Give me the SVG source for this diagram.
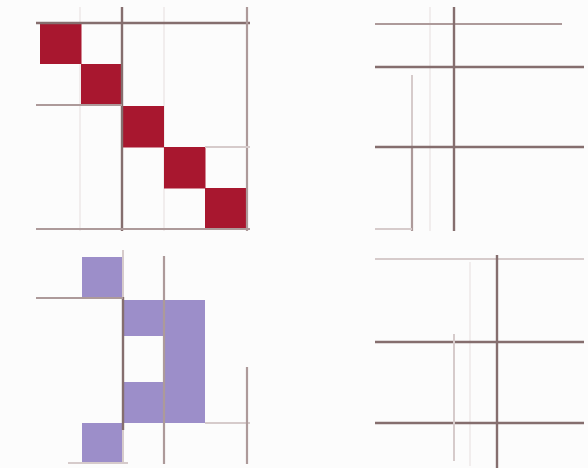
<svg xmlns="http://www.w3.org/2000/svg" width="588" height="468" viewBox="0 0 588 468">
<style>
.dark{stroke:#856e6e;stroke-width:2.4;fill:none}
.mid{stroke:#ad9a9a;stroke-width:2.2;fill:none}
.light{stroke:#d6cbcb;stroke-width:2;fill:none}
.faint{stroke:#f1eded;stroke-width:2;fill:none}
.red{fill:#a8172f}
.purple{fill:#9c8ec9}
</style>
<rect width="588" height="468" fill="#fcfcfc"/>
<g id="panel-top-left">
<line class="faint" x1="80" y1="7" x2="80" y2="231"/>
<line class="faint" x1="164" y1="7" x2="164" y2="231"/>
<rect class="red" x="40" y="22" width="41.5" height="42"/>
<rect class="red" x="81" y="64" width="41.5" height="42"/>
<rect class="red" x="122" y="106" width="42" height="41.5"/>
<rect class="red" x="164" y="147" width="41.5" height="41.5"/>
<rect class="red" x="205" y="188" width="41.5" height="41.5"/>
<line class="dark" x1="36" y1="23" x2="250" y2="23"/>
<line class="dark" x1="122" y1="7" x2="122" y2="231"/>
<line class="mid" x1="247" y1="7" x2="247" y2="231"/>
<line class="mid" x1="36" y1="105" x2="122" y2="105"/>
<line class="mid" x1="36" y1="229" x2="250" y2="229"/>
<line class="light" x1="205" y1="147" x2="250" y2="147"/>
</g>
<g id="panel-top-right">
<line class="faint" x1="430" y1="7" x2="430" y2="231"/>
<line class="light" x1="412" y1="75" x2="412" y2="147"/>
<line class="mid" x1="412" y1="147" x2="412" y2="231"/>
<line class="light" x1="375" y1="229" x2="412" y2="229"/>
<line class="mid" x1="375" y1="24" x2="562" y2="24"/>
<line class="dark" x1="375" y1="67" x2="584" y2="67"/>
<line class="dark" x1="375" y1="147" x2="584" y2="147"/>
<line class="dark" x1="454" y1="7" x2="454" y2="231"/>
</g>
<g id="panel-bottom-left">
<rect class="purple" x="82" y="257" width="41" height="42"/>
<path class="purple" fill-rule="evenodd" d="M123 300H205V423H123Z M123 336H164V382H123Z"/>
<rect class="purple" x="82" y="423" width="41" height="41"/>
<line class="light" x1="123" y1="250" x2="123" y2="297"/>
<line class="dark" x1="123" y1="297" x2="123" y2="430"/>
<line class="light" x1="123" y1="430" x2="123" y2="464"/>
<line class="mid" x1="164" y1="256" x2="164" y2="464"/>
<line class="mid" x1="36" y1="298" x2="123" y2="298"/>
<line class="light" x1="205" y1="423" x2="250" y2="423"/>
<line class="mid" x1="247" y1="367" x2="247" y2="464"/>
<line class="light" x1="68" y1="463" x2="128" y2="463"/>
</g>
<g id="panel-bottom-right">
<line class="faint" x1="470" y1="262" x2="470" y2="466"/>
<line class="light" x1="375" y1="259" x2="584" y2="259"/>
<line class="dark" x1="375" y1="342" x2="584" y2="342"/>
<line class="dark" x1="375" y1="423" x2="584" y2="423"/>
<line class="light" x1="454" y1="334" x2="454" y2="461"/>
<line class="dark" x1="497" y1="255" x2="497" y2="468"/>
</g>
</svg>
